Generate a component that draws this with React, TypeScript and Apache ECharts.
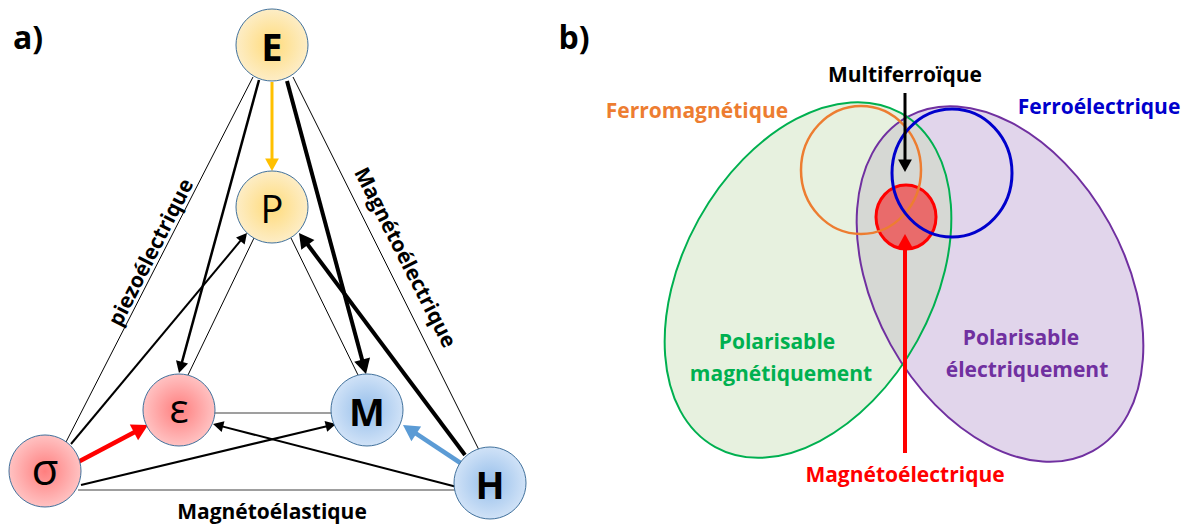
import React, { useEffect, useRef } from "react";
import * as echarts from "echarts";

// ---------- Data (diagram content) ----------
const PANEL_LABELS = ["a)", "b)"];
const NODE_IDS = ["E", "P", "eps", "M", "sigma", "H"];
const NODE_LABELS = ["E", "P", "ε", "M", "σ", "H"];
const NODE_KIND = ["yellow", "yellow", "red", "blue", "red", "blue"];
const NODE_BOLD = [true, false, false, true, false, true];
const EDGE_LABELS = ["piezoélectrique", "Magnétoélectrique", "Magnétoélastique"];
const VENN_LABELS = [
  "Multiferroïque",
  "Ferromagnétique",
  "Ferroélectrique",
  "Polarisable",
  "magnétiquement",
  "Polarisable",
  "électriquement",
  "Magnétoélectrique",
];

// ---------- Layout ----------
const FONT = "'Open Sans', Lato, sans-serif";
const TXT = 21;
const NODE_R = 36;
const NODE_POS: Record<string, [number, number]> = {
  E: [272, 45],
  P: [272, 207],
  eps: [179, 410],
  M: [367, 410],
  sigma: [45, 471],
  H: [490, 483],
};

type Edge = {
  a: [number, number];
  b: [number, number];
  w: number;
  color: string;
  arrow: boolean;
};

const EDGES: Edge[] = [
  { a: [253, 77], b: [66, 442], w: 1, color: "#000", arrow: false },
  { a: [293, 77], b: [479, 450], w: 1, color: "#000", arrow: false },
  { a: [254, 238], b: [188, 375], w: 1, color: "#000", arrow: false },
  { a: [291, 238], b: [358, 375], w: 1, color: "#000", arrow: false },
  { a: [214, 413], b: [332, 413], w: 1.5, color: "#7f7f7f", arrow: false },
  { a: [78, 490], b: [456, 490], w: 1.5, color: "#7f7f7f", arrow: false },
  { a: [259, 80], b: [179, 373], w: 2.5, color: "#000", arrow: true },
  { a: [287, 81], b: [366, 374], w: 4, color: "#000", arrow: true },
  { a: [272, 82], b: [272, 171], w: 3, color: "#FFC000", arrow: true },
  { a: [71, 444], b: [247, 233], w: 2, color: "#000", arrow: true },
  { a: [465, 455], b: [299, 233], w: 4, color: "#000", arrow: true },
  { a: [78, 462], b: [148, 425], w: 4.5, color: "#FF0000", arrow: true },
  { a: [462, 464], b: [403, 425], w: 4.5, color: "#5B9BD5", arrow: true },
  { a: [81, 485], b: [336, 424], w: 2, color: "#000", arrow: true },
  { a: [457, 487], b: [213, 424], w: 2, color: "#000", arrow: true },
];

const GRAD: Record<string, [string, string]> = {
  yellow: ["#FFDB7A", "#FDEDC6"],
  red: ["#FF7E7E", "#FFC2C2"],
  blue: ["#95BEEA", "#D0E2F7"],
};

type Ell = { cx: number; cy: number; rx: number; ry: number; rot: number };
const GREEN_ELL: Ell = { cx: 808, cy: 280, rx: 125, ry: 191, rot: -0.506 };
const PURPLE_ELL: Ell = { cx: 1000, cy: 284, rx: 125, ry: 191, rot: 0.506 };

function rayDist(e: Ell, ox: number, oy: number, dx: number, dy: number) {
  const c = Math.cos(e.rot);
  const s = Math.sin(e.rot);
  const px = ox - e.cx;
  const py = oy - e.cy;
  const l0x = c * px - s * py;
  const l0y = s * px + c * py;
  const ldx = c * dx - s * dy;
  const ldy = s * dx + c * dy;
  const A = (ldx * ldx) / (e.rx * e.rx) + (ldy * ldy) / (e.ry * e.ry);
  const B = (2 * l0x * ldx) / (e.rx * e.rx) + (2 * l0y * ldy) / (e.ry * e.ry);
  const C = (l0x * l0x) / (e.rx * e.rx) + (l0y * l0y) / (e.ry * e.ry) - 1;
  return (-B + Math.sqrt(B * B - 4 * A * C)) / (2 * A);
}

function overlapPoints(e1: Ell, e2: Ell, ox: number, oy: number) {
  const pts: number[][] = [];
  const N = 720;
  for (let i = 0; i < N; i++) {
    const t = (i / N) * Math.PI * 2;
    const dx = Math.cos(t);
    const dy = Math.sin(t);
    const r = Math.min(rayDist(e1, ox, oy, dx, dy), rayDist(e2, ox, oy, dx, dy));
    pts.push([ox + r * dx, oy + r * dy]);
  }
  return pts;
}

function arrowEls(a: number[], b: number[], w: number, color: string, head: boolean) {
  const dx = b[0] - a[0];
  const dy = b[1] - a[1];
  const len = Math.hypot(dx, dy);
  const ux = dx / len;
  const uy = dy / len;
  const els: any[] = [];
  if (!head) {
    els.push({
      type: "line",
      shape: { x1: a[0], y1: a[1], x2: b[0], y2: b[1] },
      style: { stroke: color, lineWidth: w },
    });
    return els;
  }
  const L = 6 + 2.2 * w;
  const W = 3 + 1.3 * w;
  const bx = b[0] - ux * L;
  const by = b[1] - uy * L;
  els.push({
    type: "line",
    shape: { x1: a[0], y1: a[1], x2: bx + ux * 1, y2: by + uy * 1 },
    style: { stroke: color, lineWidth: w },
  });
  els.push({
    type: "polygon",
    shape: {
      points: [
        [b[0], b[1]],
        [bx - uy * W, by + ux * W],
        [bx + uy * W, by - ux * W],
      ],
    },
    style: { fill: color },
  });
  return els;
}

function ellipseEl(e: Ell, style: any) {
  return {
    type: "ellipse",
    x: e.cx,
    y: e.cy,
    rotation: e.rot,
    shape: { cx: 0, cy: 0, rx: e.rx, ry: e.ry },
    style,
  };
}

function text(t: string, x: number, y: number, size: number, color: string, bold = true, rotation = 0) {
  return {
    type: "text",
    x,
    y,
    rotation,
    style: {
      text: t,
      fill: color,
      font: `${bold ? "bold " : ""}${size}px ${FONT}`,
      align: "center",
      verticalAlign: "middle",
    },
  };
}

function buildGraphic() {
  const els: any[] = [];
  // ----- panel a -----
  EDGES.forEach((e) => els.push(...arrowEls(e.a, e.b, e.w, e.color, e.arrow)));
  NODE_IDS.forEach((id, i) => {
    const [x, y] = NODE_POS[id];
    const g = GRAD[NODE_KIND[i]];
    els.push({
      type: "circle",
      shape: { cx: x, cy: y, r: NODE_R },
      style: {
        fill: {
          type: "radial",
          x: 0.5,
          y: 0.5,
          r: 0.5,
          colorStops: [
            { offset: 0, color: g[0] },
            { offset: 1, color: g[1] },
          ],
        },
        stroke: "#41719C",
        lineWidth: 1,
      },
    });
    const size = id === "sigma" ? 44 : id === "eps" ? 40 : 38;
    const dy = id === "sigma" ? -3 : id === "eps" ? -3 : 1;
    els.push(text(NODE_LABELS[i], x, y + dy, size, "#000", NODE_BOLD[i]));
  });
  els.push(text(EDGE_LABELS[0], 150, 252, TXT, "#000", true, 1.1));
  els.push(text(EDGE_LABELS[1], 406, 257, TXT, "#000", true, -1.1));
  els.push(text(EDGE_LABELS[2], 272, 511, TXT, "#000", true));
  els.push(text(PANEL_LABELS[0], 28, 36, 32, "#000", true));
  els.push(text(PANEL_LABELS[1], 574, 36, 32, "#000", true));

  // ----- panel b -----
  els.push(ellipseEl(GREEN_ELL, { fill: "#E7F1DF" }));
  els.push(ellipseEl(PURPLE_ELL, { fill: "#E1D5EB" }));
  els.push({
    type: "polygon",
    shape: { points: overlapPoints(GREEN_ELL, PURPLE_ELL, 904, 230) },
    style: { fill: "#D6D8D4" },
  });
  els.push(ellipseEl(PURPLE_ELL, { fill: "none", stroke: "#7030A0", lineWidth: 2 }));
  els.push(ellipseEl(GREEN_ELL, { fill: "none", stroke: "#00B050", lineWidth: 2 }));
  els.push(ellipseEl({ cx: 906, cy: 217, rx: 30, ry: 32, rot: 0 }, { fill: "#E96B6B", stroke: "#FF0000", lineWidth: 3 }));
  els.push(ellipseEl({ cx: 861, cy: 170, rx: 60, ry: 64, rot: 0 }, { fill: "none", stroke: "#ED7D31", lineWidth: 2.5 }));
  els.push(ellipseEl({ cx: 952, cy: 173, rx: 60, ry: 64, rot: 0 }, { fill: "none", stroke: "#0000CC", lineWidth: 3 }));
  els.push(...arrowEls([905, 93], [905, 172], 3, "#000", true));
  els.push(...arrowEls([905, 453], [905, 234], 4, "#FF0000", true));

  els.push(text(VENN_LABELS[0], 905, 74, TXT, "#000"));
  els.push(text(VENN_LABELS[1], 697, 110, TXT, "#ED7D31"));
  els.push(text(VENN_LABELS[2], 1099, 106, TXT, "#0000CC"));
  els.push(text(VENN_LABELS[3], 777, 341, TXT, "#00B050"));
  els.push(text(VENN_LABELS[4], 781, 373, TXT, "#00B050"));
  els.push(text(VENN_LABELS[5], 1021, 337, TXT, "#7030A0"));
  els.push(text(VENN_LABELS[6], 1027, 369, TXT, "#7030A0"));
  els.push(text(VENN_LABELS[7], 905, 474, TXT, "#FF0000"));
  return els;
}

export default function App() {
  const ref = useRef<HTMLDivElement>(null);
  useEffect(() => {
    if (!ref.current) return;
    const chart = echarts.init(ref.current, null, { renderer: "svg" });
    chart.setOption({
      animation: false,
      backgroundColor: "#ffffff",
      graphic: { elements: buildGraphic() },
    });
    return () => chart.dispose();
  }, []);
  return (
    <div
      ref={ref}
      style={{ position: "fixed", left: 0, top: 0, width: 1192, height: 526 }}
    />
  );
}
